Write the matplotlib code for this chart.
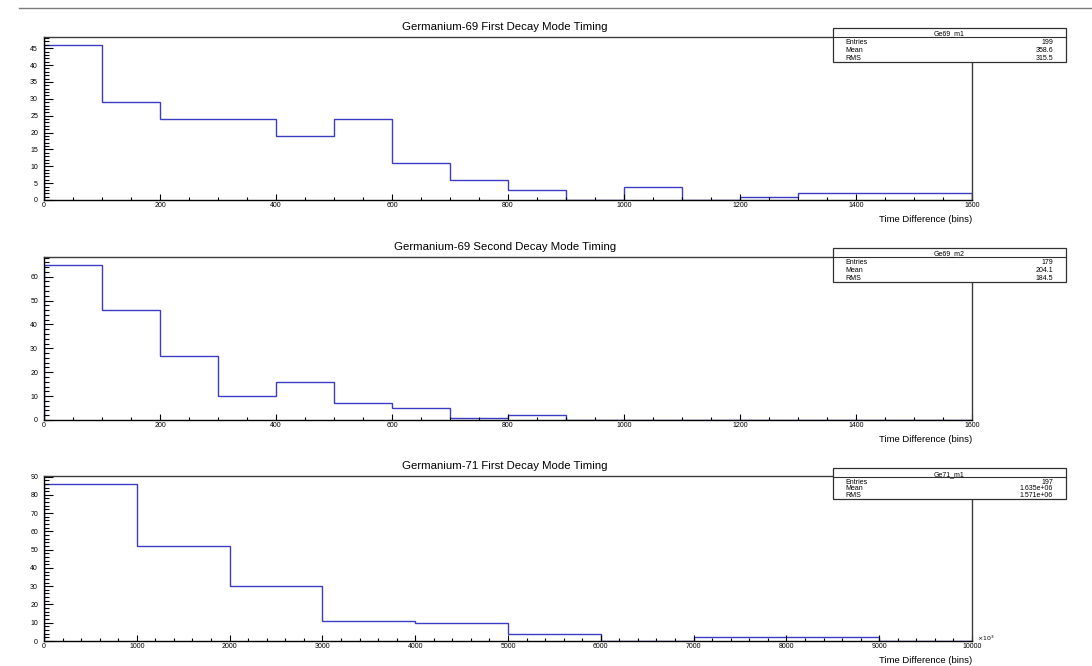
import numpy as np
import matplotlib.pyplot as plt
from matplotlib.ticker import MultipleLocator
from matplotlib.patches import Rectangle
from matplotlib.lines import Line2D

plt.rcParams['font.family'] = ['Liberation Sans', 'DejaVu Sans']

# histogram contents
ge69_m1_edges = np.arange(0, 1700, 100)
ge69_m1_counts = [46, 29, 24, 24, 19, 24, 11, 6, 3, 0, 4, 0, 1, 2, 2, 2]

ge69_m2_edges = np.arange(0, 1700, 100)
ge69_m2_counts = [65, 46, 27, 10, 16, 7, 5, 1, 2, 0, 0, 0, 0, 0, 0, 0]

ge71_m1_edges = np.arange(0, 11000, 1000)
ge71_m1_counts = [86, 52, 30, 11, 10, 4, 0, 2, 2, 0]

titles = ['Germanium-69 First Decay Mode Timing',
          'Germanium-69 Second Decay Mode Timing',
          'Germanium-71 First Decay Mode Timing']
hist_names = ['Ge69_m1', 'Ge69_m2', 'Ge71_m1']
entries = ['199', '179', '197']
means = ['358.6', '204.1', '1.635e+06']
rms = ['315.5', '184.5', '1.571e+06']

W, H = 1092, 666
fig = plt.figure(figsize=(W / 100, H / 100), dpi=100)


def fx(x):
    return x / W


def fy(y):
    return 1 - y / H


# canvas top border
fig.add_artist(Line2D([fx(19), 1], [fy(8), fy(8)], color='#7a7a7a', lw=1.0))

# pixel layout of the three pads: (top, bottom)
pads = [(37, 200), (257, 420), (476, 641)]
left, right = 44, 972

hists = [(ge69_m1_edges, ge69_m1_counts, 1600, 200, 50, 5, 1),
         (ge69_m2_edges, ge69_m2_counts, 1600, 200, 50, 10, 2),
         (ge71_m1_edges, ge71_m1_counts, 10000, 1000, 200, 10, 2)]

# stats boxes: (top, header line, bottom, header baseline, row baselines)
stat_boxes = [(28.3, 37.3, 62.3, 35.6, [44.0, 52.0, 60.0]),
              (248.3, 257.3, 281.7, 255.3, [264.0, 272.0, 280.0]),
              (468.3, 477.0, 499.0, 476.5, [483.7, 490.3, 497.2])]

for i, ((top, bot), (edges, counts, xmax, xmaj, xmin, ymaj, ymin)) in enumerate(zip(pads, hists)):
    ax = fig.add_axes([fx(left), fy(bot), fx(right - left), (bot - top) / H])
    ax.stairs(counts, edges, color='#3c3cc4', lw=1.0, baseline=0)
    ax.set_xlim(0, xmax)
    ax.set_ylim(0, 1.05 * max(counts))

    ax.xaxis.set_major_locator(MultipleLocator(xmaj))
    ax.xaxis.set_minor_locator(MultipleLocator(xmin))
    ax.yaxis.set_major_locator(MultipleLocator(ymaj))
    ax.yaxis.set_minor_locator(MultipleLocator(ymin))
    ax.tick_params(axis='both', which='both', direction='in', labelsize=5,
                   top=False, right=False, width=0.8)
    ax.tick_params(axis='y', which='major', length=6.5, pad=4.3)
    ax.tick_params(axis='y', which='minor', length=3.3)
    ax.tick_params(axis='x', which='major', length=4.3, pad=1.5)
    ax.tick_params(axis='x', which='minor', length=2.2)

    for side in ['top', 'right']:
        ax.spines[side].set_color('#3c3c3c')
    for side in ax.spines:
        ax.spines[side].set_linewidth(1.0)

    fig.text(fx(505), fy(top - 7.4), titles[i], fontsize=8.2, ha='center', va='baseline')
    ax.set_xlabel('Time Difference (bins)', fontsize=6.8, loc='right', labelpad=4)

    if i == 2:
        fig.text(fx(977), fy(638), r'$\times10^{3}$', fontsize=4.5, ha='left', va='center')

    # statistics box
    btop, bhead, bbot, hy, rows = stat_boxes[i]
    bx0, bx1 = 833, 1066
    fig.add_artist(Rectangle((fx(bx0), fy(bbot)), fx(bx1 - bx0), (bbot - btop) / H,
                             transform=fig.transFigure, facecolor='white',
                             edgecolor='#303030', lw=0.9))
    fig.add_artist(Line2D([fx(bx0), fx(bx1)], [fy(bhead), fy(bhead)], color='#303030', lw=0.8))
    fig.text(fx((bx0 + bx1) / 2), fy(hy), hist_names[i], fontsize=5, ha='center', va='baseline')
    for lab, val, ry in zip(['Entries', 'Mean', 'RMS'], [entries[i], means[i], rms[i]], rows):
        fig.text(fx(845), fy(ry), lab, fontsize=5, ha='left', va='baseline')
        fig.text(fx(1053), fy(ry), val, fontsize=5, ha='right', va='baseline')

fig.savefig('out.png', dpi=100)
